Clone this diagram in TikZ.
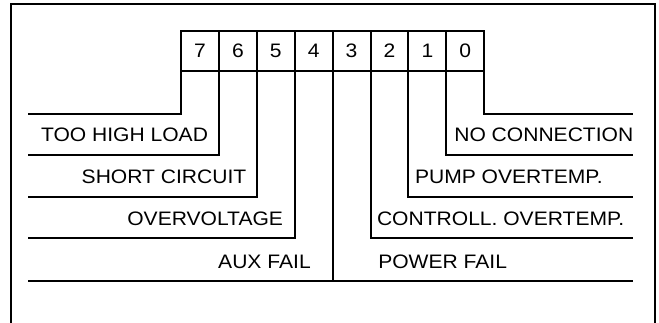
\documentclass[tikz,border=0pt]{standalone}
\usepackage{fontspec}
\setmainfont{Liberation Sans}[FakeStretch=1.08]
\usetikzlibrary{positioning}
\tikzstyle{bitcell} = [rectangle, draw, minimum width=37.9pt, minimum height=40pt, inner sep=0pt, outer sep=0pt, text centered]
\tikzstyle{lbl} = [inner sep=0pt]
\tikzstyle{wire} = [draw, line width=2pt]

\begin{document}
\begin{tikzpicture}[x=1pt, y=-1pt, line width=2pt, font=\fontsize{19.5}{22}\selectfont]
        \useasboundingbox (0,0) rectangle (659,322);
        % outer frame, open at the bottom
        \draw (11,330) -- (11,4) -- (655,4) -- (655,330);

        % status register bits
        \node[bitcell] at (200,51)      (b7) {7};
        \node[bitcell, right=0pt of b7] (b6) {6};
        \node[bitcell, right=0pt of b6] (b5) {5};
        \node[bitcell, right=0pt of b5] (b4) {4};
        \node[bitcell, right=0pt of b4] (b3) {3};
        \node[bitcell, right=0pt of b3] (b2) {2};
        \node[bitcell, right=0pt of b2] (b1) {1};
        \node[bitcell, right=0pt of b1] (b0) {0};

        \coordinate (l7) at (28,114);
        \coordinate (l6) at (28,155);
        \coordinate (l5) at (28,197);
        \coordinate (l4) at (28,238);
        \coordinate (ll) at (28,281);
        \coordinate (r0) at (633,114);
        \coordinate (r1) at (633,155);
        \coordinate (r2) at (633,197);
        \coordinate (r3) at (633,238);
        \coordinate (rr) at (633,281);

        \path[wire] (b7.south west) |- (l7);
        \path[wire] (b6.south west) |- (l6);
        \path[wire] (b5.south west) |- (l5);
        \path[wire] (b4.south west) |- (l4);
        \path[wire] (b0.south east) |- (r0);
        \path[wire] (b1.south east) |- (r1);
        \path[wire] (b2.south east) |- (r2);
        \path[wire] (b3.south east) |- (r3);
        \path[wire] (b4.south east) -- (b4.south east |- ll);
        \path[wire] (ll) -- (rr);

        \node[lbl, anchor=base east] at (209,141.7)   (load)  {TOO HIGH LOAD};
        \node[lbl, anchor=base east] at (247.3,183)   (short) {SHORT CIRCUIT};
        \node[lbl, anchor=base east] at (284,225.7)   (ovolt) {OVERVOLTAGE};
        \node[lbl, anchor=base east] at (311.7,268)   (aux)   {AUX FAIL};
        \node[lbl, anchor=base west] at (453.3,141.7) (nocon) {NO CONNECTION};
        \node[lbl, anchor=base west] at (414,183)     (pump)  {PUMP OVERTEMP.};
        \node[lbl, anchor=base west] at (376,225.7)   (ctrl)  {CONTROLL. OVERTEMP.};
        \node[lbl, anchor=base west] at (377.3,268)   (power) {POWER FAIL};
\end{tikzpicture}
\end{document}
